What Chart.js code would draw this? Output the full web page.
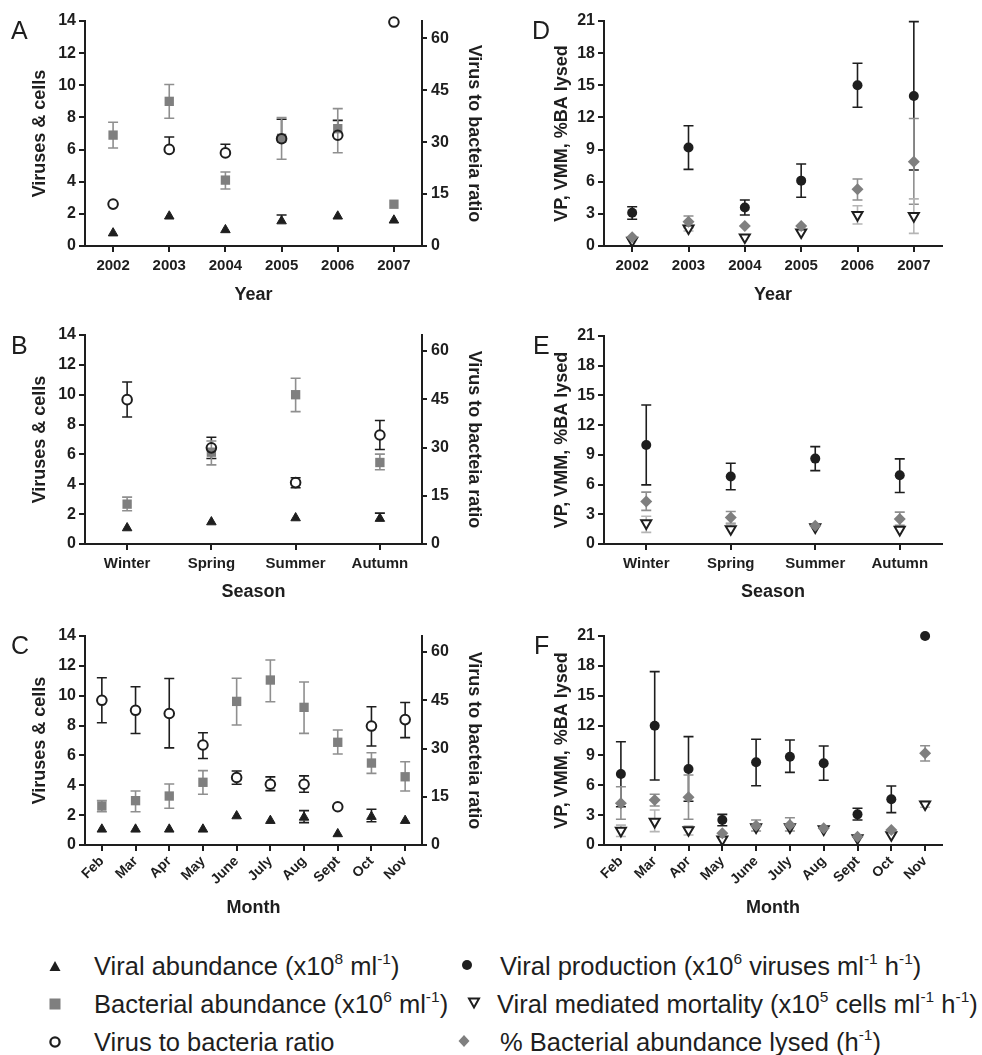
<!DOCTYPE html>
<html>
<head>
<meta charset="utf-8">
<script src="https://cdn.jsdelivr.net/npm/chart.js@4"></script>
<style>
  body { margin: 0; background: #fff; }
  #page { position: relative; width: 982px; height: 1055px; overflow: hidden; font-family: 'Liberation Sans', Arial, sans-serif; color: #1e1e1e; }
  canvas { position: absolute; }
  .letter { position: absolute; font-size: 25px; line-height: 25px; }
  .lg { position: absolute; font-size: 25.5px; line-height: 28px; white-space: nowrap; }
  .lg sup { font-size: 15.5px; line-height: 0; position: relative; top: -2px; }
  .mk { position: absolute; }
</style>
</head>
<body>
<div id="page">
  <canvas id="cA" width="490" height="310" style="left:0;top:0"></canvas>
  <canvas id="cB" width="490" height="300" style="left:0;top:310px"></canvas>
  <canvas id="cC" width="490" height="310" style="left:0;top:610px"></canvas>
  <canvas id="cD" width="492" height="310" style="left:490px;top:0"></canvas>
  <canvas id="cE" width="492" height="300" style="left:490px;top:310px"></canvas>
  <canvas id="cF" width="492" height="310" style="left:490px;top:610px"></canvas>

  <div class="letter" style="left:11px;top:18px">A</div>
  <div class="letter" style="left:11px;top:333px">B</div>
  <div class="letter" style="left:11px;top:633px">C</div>
  <div class="letter" style="left:532px;top:18px">D</div>
  <div class="letter" style="left:533px;top:333px">E</div>
  <div class="letter" style="left:534px;top:633px">F</div>

  <svg class="mk" style="left:48px;top:959px" width="14" height="14"><polygon points="7,2 12.5,12 1.5,12" fill="#1e1e1e"/></svg>
  <svg class="mk" style="left:48px;top:997px" width="14" height="14"><rect x="1.5" y="1.5" width="11" height="11" fill="#7f7f7f"/></svg>
  <svg class="mk" style="left:48px;top:1035px" width="14" height="14"><circle cx="7" cy="7" r="4.6" fill="none" stroke="#1e1e1e" stroke-width="2.3"/></svg>
  <svg class="mk" style="left:460px;top:958px" width="14" height="14"><circle cx="7" cy="7" r="5" fill="#1e1e1e"/></svg>
  <svg class="mk" style="left:467px;top:996px" width="14" height="14"><polygon points="2,2.5 12,2.5 7,11.5" fill="#fff" stroke="#1e1e1e" stroke-width="2"/></svg>
  <svg class="mk" style="left:457px;top:1034px" width="14" height="14"><polygon points="7,1 12.5,7 7,13 1.5,7" fill="#7f7f7f"/></svg>

  <div class="lg" style="left:94px;top:952px">Viral abundance (x10<sup>8</sup> ml<sup>-1</sup>)</div>
  <div class="lg" style="left:94px;top:990px">Bacterial abundance (x10<sup>6</sup> ml<sup>-1</sup>)</div>
  <div class="lg" style="left:94px;top:1028px">Virus to bacteria ratio</div>
  <div class="lg" style="left:500px;top:952px">Viral production (x10<sup>6</sup> viruses ml<sup>-1</sup> h<sup>-1</sup>)</div>
  <div class="lg" style="left:497px;top:990px">Viral mediated mortality (x10<sup>5</sup> cells ml<sup>-1</sup> h<sup>-1</sup>)</div>
  <div class="lg" style="left:500px;top:1028px">% Bacterial abundance lysed (h<sup>-1</sup>)</div>
</div>

<script>
// categories
const years = ['2002', '2003', '2004', '2005', '2006', '2007'];
const seasons = ['Winter', 'Spring', 'Summer', 'Autumn'];
const months = ['Feb', 'Mar', 'Apr', 'May', 'June', 'July', 'Aug', 'Sept', 'Oct', 'Nov'];

// A - by year
const aViral = [0.8, 1.85, 1.0, 1.55, 1.85, 1.6];
const aViralLo = [null, null, null, null, null, null];
const aViralHi = [null, null, null, 1.93, null, null];
const aBact = [6.9, 9.0, 4.1, 6.7, 7.3, 2.6];
const aBactLo = [6.1, 7.95, 3.55, 5.4, 5.8, null];
const aBactHi = [7.7, 10.05, 4.6, 8.0, 8.55, null];
const aVbr = [12.1, 27.9, 26.9, 31.0, 32.0, 64.7];
const aVbrLo = [null, null, null, null, null, null];
const aVbrHi = [null, 31.5, 29.4, 36.6, 36.3, null];

// B - by season
const bViral = [1.07, 1.47, 1.74, 1.7];
const bViralLo = [null, null, null, null];
const bViralHi = [null, null, null, 2.07];
const bBact = [2.67, 6.15, 10.0, 5.46];
const bBactLo = [2.23, 5.3, 8.87, 4.97];
const bBactHi = [3.14, 6.9, 11.1, 6.02];
const bVbr = [44.9, 29.9, 19.1, 33.9];
const bVbrLo = [39.5, 26.6, 17.5, 29.4];
const bVbrHi = [50.4, 33.2, 20.6, 38.4];

// C - by month
const cViral = [1.05, 1.05, 1.05, 1.05, 1.94, 1.63, 1.85, 0.74, 1.9, 1.63];
const cViralLo = [null, null, null, null, null, null, 1.5, null, 1.56, null];
const cViralHi = [null, null, null, null, null, null, 2.3, null, 2.39, null];
const cBact = [2.61, 2.97, 3.28, 4.2, 9.62, 11.05, 9.22, 6.88, 5.49, 4.57];
const cBactLo = [2.23, 2.23, 2.46, 3.4, 8.04, 9.6, 7.48, 6.1, 4.8, 3.62];
const cBactHi = [2.97, 3.62, 4.09, 4.98, 11.17, 12.39, 10.92, 7.7, 6.18, 5.58];
const cVbr = [45.0, 41.9, 40.9, 31.1, 21.0, 18.9, 18.9, 11.9, 37.0, 39.0];
const cVbrLo = [38.0, 34.7, 30.2, 26.9, 18.9, 16.9, 16.4, null, 30.8, 33.4];
const cVbrHi = [52.0, 49.2, 51.8, 34.9, 23.0, 21.2, 21.5, null, 43.0, 44.3];

// D - by year
const dVp = [3.1, 9.2, 3.6, 6.1, 15.0, 14.0];
const dVpLo = [2.5, 7.15, 2.9, 4.55, 12.95, 7.1];
const dVpHi = [3.67, 11.23, 4.3, 7.66, 17.06, 20.94];
const dLysed = [0.81, 2.27, 1.87, 1.87, 5.29, 7.87];
const dLysedLo = [null, 1.7, null, null, 4.3, 3.9];
const dLysedHi = [null, 2.8, null, null, 6.25, 11.9];
const dVmm = [0.5, 1.65, 0.81, 1.28, 2.9, 2.8];
const dVmmLo = [null, 1.4, null, null, 2.05, 1.18];
const dVmmHi = [null, 1.9, null, null, 3.76, 4.4];

// E - by season
const eVp = [10.0, 6.81, 8.62, 6.95];
const eVpLo = [5.97, 5.47, 7.41, 5.2];
const eVpHi = [14.03, 8.16, 9.83, 8.59];
const eLysed = [4.29, 2.68, 1.84, 2.52];
const eLysedLo = [3.39, 2.1, null, 1.9];
const eLysedHi = [5.24, 3.28, null, 3.22];
const eVmm = [2.11, 1.51, 1.7, 1.44];
const eVmmLo = [1.17, null, null, null];
const eVmmHi = [2.8, 2.0, null, null];

// F - by month
const fVp = [7.13, 11.99, 7.64, 2.51, 8.31, 8.87, 8.21, 3.08, 4.59, 21.0];
const fVpLo = [3.85, 6.53, 4.4, 1.94, 5.96, 7.3, 6.5, 2.51, 3.25, null];
const fVpHi = [10.38, 17.42, 10.89, 3.08, 10.62, 10.55, 9.95, 3.69, 5.93, null];
const fLysed = [4.19, 4.52, 4.79, 1.17, 1.94, 2.01, 1.68, 0.84, 1.5, 9.22];
const fLysedLo = [2.58, 3.92, 2.58, null, 1.4, 1.4, null, null, null, 8.44];
const fLysedHi = [5.86, 5.1, 7.04, null, 2.51, 2.74, null, null, null, 9.98];
const fVmm = [1.44, 2.34, 1.5, 0.57, 1.8, 1.8, 1.6, 0.7, 1.0, 4.09];
const fVmmLo = [0.85, 1.34, 1.0, null, null, null, null, null, null, 3.8];
const fVmmHi = [2.0, 3.52, 1.9, null, null, null, null, null, null, 4.4];

const FONT = "'Liberation Sans', Arial, sans-serif";
const black = '#1e1e1e';
const grey = '#7f7f7f';
const greyBar = '#8f8f8f';
const lightBar = '#b5b5b5';

// draws the vertical error bars with caps, behind the markers
const errorBars = {
  id: 'errorBars',
  beforeDatasetsDraw(chart) {
    const ctx = chart.ctx;
    chart.data.datasets.forEach((ds, i) => {
      if (!ds.errLo) return;
      const meta = chart.getDatasetMeta(i);
      const ys = chart.scales[ds.yAxisID || 'y'];
      ctx.save();
      ctx.strokeStyle = ds.errColor;
      ctx.lineWidth = 1.6;
      meta.data.forEach((pt, j) => {
        const y0 = ys.getPixelForValue(ds.data[j]);
        [ds.errLo[j], ds.errHi[j]].forEach(v => {
          if (v == null) return;
          const y = ys.getPixelForValue(v);
          const dir = y < y0 ? -1 : 1;
          ctx.beginPath();
          ctx.moveTo(pt.x, y0 + dir * ds.errGap);
          ctx.lineTo(pt.x, y);
          ctx.moveTo(pt.x - 5, y);
          ctx.lineTo(pt.x + 5, y);
          ctx.stroke();
        });
      });
      ctx.restore();
    });
  }
};

const styles = {
  triUp: { pointStyle: 'triangle', pointRadius: 5.5, backgroundColor: black, borderColor: black, borderWidth: 1, errColor: black, errGap: 3 },
  square: { pointStyle: 'rect', pointRadius: 6.6, backgroundColor: grey, borderColor: grey, borderWidth: 0, errColor: greyBar, errGap: 4 },
  ring: { pointStyle: 'circle', pointRadius: 4.8, backgroundColor: 'rgba(0,0,0,0)', borderColor: black, borderWidth: 2, errColor: black, errGap: 5 },
  dot: { pointStyle: 'circle', pointRadius: 5, backgroundColor: black, borderColor: black, borderWidth: 0, errColor: black, errGap: 3 },
  triDown: { pointStyle: 'triangle', pointRotation: 180, pointRadius: 5.8, backgroundColor: '#fff', borderColor: black, borderWidth: 2, errColor: lightBar, errGap: 3 },
  diamond: { pointStyle: 'rectRot', pointRadius: 6, backgroundColor: grey, borderColor: grey, borderWidth: 0, errColor: greyBar, errGap: 3 }
};

function series(data, lo, hi, style, axis) {
  return Object.assign({ data: data, errLo: lo, errHi: hi, showLine: false, clip: false, yAxisID: axis || 'y' }, styles[style]);
}

function bold(size) { return { family: FONT, size: size, weight: 'bold' }; }

function makeChart(id, g, labels, datasets, yl, yr, xTitle, rotate) {
  const scales = {
    x: {
      type: 'category', labels: labels, offset: true,
      grid: { drawOnChartArea: false, drawTicks: true, tickLength: 6, color: black, lineWidth: 2 },
      border: { display: true, color: black, width: 2 },
      ticks: { color: black, font: bold(rotate ? 14 : 15), padding: rotate ? 2 : 5, autoSkip: false,
               minRotation: rotate ? 45 : 0, maxRotation: rotate ? 45 : 0 },
      title: { display: true, text: xTitle, color: black, font: bold(18), padding: { top: 0, bottom: g.xtPad } },
      afterFit: s => { s.height = g.xh; }
    },
    y: {
      position: 'left', min: 0, max: yl.max,
      grid: { drawOnChartArea: false, drawTicks: true, tickLength: 6, color: black, lineWidth: 2 },
      border: { display: true, color: black, width: 2 },
      ticks: { stepSize: yl.step, includeBounds: false, color: black, font: bold(16), padding: 3 },
      title: { display: true, text: yl.title, color: black, font: bold(18), padding: { top: g.ytPad, bottom: 0 } },
      afterFit: s => { s.width = g.yw; }
    }
  };
  if (yr) {
    scales.y1 = {
      position: 'right', min: 0, max: yr.max,
      grid: { drawOnChartArea: false, drawTicks: true, tickLength: 5, color: black, lineWidth: 2 },
      border: { display: true, color: black, width: 2 },
      ticks: { stepSize: yr.step, includeBounds: false, color: black, font: bold(16), padding: 4 },
      title: { display: true, text: yr.title, color: black, font: bold(18), padding: { top: g.y1tPad, bottom: 0 } },
      afterFit: s => { s.width = g.y1w; }
    };
  }
  return new Chart(document.getElementById(id), {
    type: 'line',
    data: { labels: labels, datasets: datasets },
    options: {
      responsive: false,
      animation: false,
      events: [],
      layout: { padding: { top: g.top, left: 0, right: g.right, bottom: 0 } },
      plugins: { legend: { display: false }, tooltip: { enabled: false } },
      scales: scales
    },
    plugins: [errorBars]
  });
}

const leftAxis = { max: 14, step: 2, title: 'Viruses & cells' };
const ratioAxis = { max: 65, step: 15, title: 'Virus to bacteia ratio' };
const rateAxis = { max: 21, step: 3, title: 'VP, VMM, %BA lysed' };

makeChart('cA', { top: 21, right: 0, yw: 85, y1w: 68, xh: 64, xtPad: 4, ytPad: 29, y1tPad: 5 }, years, [
  series(aViral, aViralLo, aViralHi, 'triUp'),
  series(aVbr, aVbrLo, aVbrHi, 'ring', 'y1'),
  series(aBact, aBactLo, aBactHi, 'square')
], leftAxis, ratioAxis, 'Year', false);

makeChart('cB', { top: 25, right: 0, yw: 85, y1w: 68, xh: 66, xtPad: 7, ytPad: 29, y1tPad: 5 }, seasons, [
  series(bViral, bViralLo, bViralHi, 'triUp'),
  series(bVbr, bVbrLo, bVbrHi, 'ring', 'y1'),
  series(bBact, bBactLo, bBactHi, 'square')
], leftAxis, ratioAxis, 'Season', false);

makeChart('cC', { top: 26, right: 0, yw: 85, y1w: 68, xh: 75, xtPad: 1, ytPad: 29, y1tPad: 5 }, months, [
  series(cViral, cViralLo, cViralHi, 'triUp'),
  series(cVbr, cVbrLo, cVbrHi, 'ring', 'y1'),
  series(cBact, cBactLo, cBactHi, 'square')
], leftAxis, ratioAxis, 'Month', true);

makeChart('cD', { top: 21, right: 40, yw: 114, xh: 64, xtPad: 4, ytPad: 61 }, years, [
  series(dVp, dVpLo, dVpHi, 'dot'),
  series(dLysed, dLysedLo, dLysedHi, 'diamond'),
  series(dVmm, dVmmLo, dVmmHi, 'triDown')
], rateAxis, null, 'Year', false);

makeChart('cE', { top: 26, right: 40, yw: 114, xh: 66, xtPad: 7, ytPad: 61 }, seasons, [
  series(eVp, eVpLo, eVpHi, 'dot'),
  series(eLysed, eLysedLo, eLysedHi, 'diamond'),
  series(eVmm, eVmmLo, eVmmHi, 'triDown')
], rateAxis, null, 'Season', false);

makeChart('cF', { top: 26, right: 40, yw: 114, xh: 75, xtPad: 1, ytPad: 61 }, months, [
  series(fVp, fVpLo, fVpHi, 'dot'),
  series(fLysed, fLysedLo, fLysedHi, 'diamond'),
  series(fVmm, fVmmLo, fVmmHi, 'triDown')
], rateAxis, null, 'Month', true);
</script>
</body>
</html>
